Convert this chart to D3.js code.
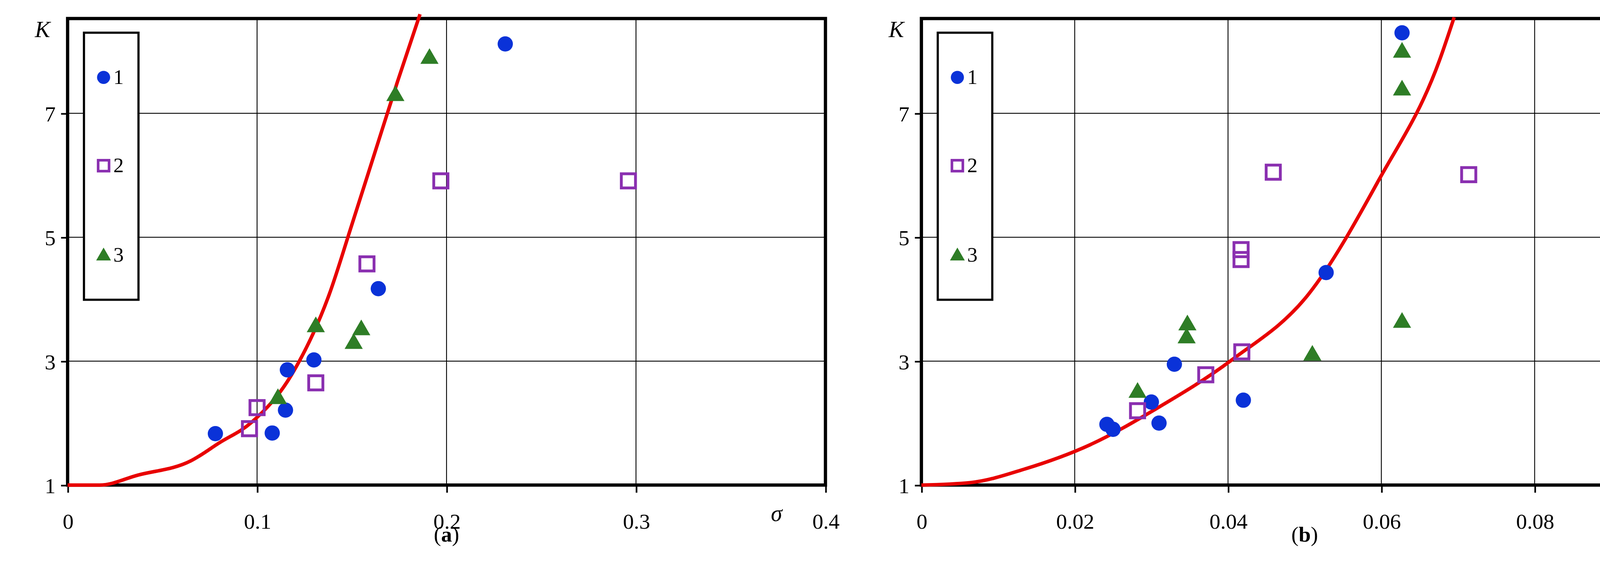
<!DOCTYPE html>
<html><head><meta charset="utf-8">
<script src="https://cdn.jsdelivr.net/npm/d3@7"></script>
<style>html,body{margin:0;padding:0;background:#fff;overflow:hidden}svg{display:block}</style>
</head><body>
<div id="main-frame"></div>
<script>
// panel (a): K vs sigma
var sigma1 = [0.078, 0.108, 0.115, 0.116, 0.130, 0.164, 0.231];
var kA1 = [1.83, 1.84, 2.21, 2.86, 3.02, 4.17, 8.12];
var sigma2 = [0.096, 0.100, 0.131, 0.158, 0.197, 0.296];
var kA2 = [1.91, 2.25, 2.65, 4.57, 5.91, 5.91];
var sigma3 = [0.111, 0.131, 0.151, 0.155, 0.173, 0.191];
var kA3 = [2.41, 3.57, 3.30, 3.52, 7.30, 7.90];
var curveSigma = [0, 0.017, 0.037, 0.065, 0.080, 0.097, 0.118, 0.138, 0.150, 0.162, 0.174, 0.186];
var curveKA = [1.0, 1.0, 1.16, 1.39, 1.68, 2.01, 2.77, 4.07, 5.2, 6.35, 7.5, 8.6];
// panel (b): K vs V
var v1 = [0.0242, 0.0250, 0.0300, 0.0310, 0.0330, 0.0420, 0.0528, 0.0627];
var kB1 = [1.98, 1.90, 2.34, 2.00, 2.95, 2.37, 4.43, 8.30];
var v2 = [0.0282, 0.0371, 0.0418, 0.0417, 0.0417, 0.0459, 0.0714];
var kB2 = [2.20, 2.78, 3.15, 4.64, 4.80, 6.05, 6.01];
var v3 = [0.0282, 0.0346, 0.0347, 0.0510, 0.0627, 0.0627, 0.0627];
var kB3 = [2.51, 3.39, 3.60, 3.11, 3.64, 7.39, 8.00];
var curveV = [0, 0.0064, 0.0135, 0.022, 0.0306, 0.0405, 0.0505, 0.0597, 0.0676, 0.0695];
var curveKB = [1.0, 1.04, 1.26, 1.65, 2.23, 3.02, 4.08, 5.93, 7.86, 8.55];

var yTicks = [1, 3, 5, 7];
var xTicksA = [0, 0.1, 0.2, 0.3, 0.4];
var xTicksB = [0, 0.02, 0.04, 0.06, 0.08, 0.1];
var legendLabels = ["1", "2", "3"];

var FONT = "'Liberation Serif', 'DejaVu Serif', serif";
var S = 4377 / 1568;
var mainSVG = d3.select("#main-frame").append("svg")
  .attr("width", 4377).attr("height", 1493)
  .append("g").attr("transform", "scale(" + S + ")");

function panel(x0, x1, xMax, xTicks, xName, cap, s1, s2, s3, cx, cy) {
  var top = 17, bottom = 445;
  var x = d3.scaleLinear().domain([0, xMax]).range([x0, x1]);
  var y = d3.scaleLinear().domain([1, 8.53]).range([bottom, top]);
  var g = mainSVG.append("g");

  // grid
  xTicks.slice(1, -1).forEach(function(t) {
    g.append("line").attr("x1", x(t)).attr("x2", x(t)).attr("y1", top).attr("y2", bottom)
      .style("stroke", "#000").style("stroke-width", 0.8);
  });
  yTicks.slice(1).forEach(function(t) {
    g.append("line").attr("x1", x0).attr("x2", x1).attr("y1", y(t)).attr("y2", y(t))
      .style("stroke", "#000").style("stroke-width", 0.8);
  });

  // axes
  var ax = g.append("g").attr("transform", "translate(0," + bottom + ")")
    .call(d3.axisBottom(x).tickValues(xTicks).tickSize(7).tickFormat(function(d) { return d === 0 ? "0" : String(+d.toFixed(2)); }));
  var ay = g.append("g").attr("transform", "translate(" + x0 + ",0)")
    .call(d3.axisLeft(y).tickValues(yTicks).tickSize(6).tickFormat(d3.format("d")));
  [ax, ay].forEach(function(a) {
    a.select(".domain").remove();
    a.selectAll("line").style("stroke", "#000").style("stroke-width", 1.5);
    a.selectAll("text").style("font-family", FONT).style("font-size", "20px").attr("fill", "#000");
  });
  ax.selectAll("text").attr("dy", "1.5em");
  ay.selectAll("text").attr("dx", "-0.1em").attr("dy", "0.35em");

  // frame
  g.append("rect").attr("x", x0).attr("y", top).attr("width", x1 - x0).attr("height", bottom - top)
    .style("fill", "none").style("stroke", "#000").style("stroke-width", 3);

  // curve
  g.append("path").datum(d3.zip(cx, cy))
    .attr("d", d3.line().curve(d3.curveMonotoneX).x(function(d) { return x(d[0]); }).y(function(d) { return y(d[1]); }))
    .style("fill", "none").style("stroke", "#e80000").style("stroke-width", 3.2);

  var tri = d3.symbol().type(d3.symbolTriangle).size(120);
  function circles(xs, ys) {
    g.selectAll(null).data(d3.zip(xs, ys)).enter().append("circle")
      .attr("cx", function(d) { return x(d[0]); }).attr("cy", function(d) { return y(d[1]); })
      .attr("r", 7).style("fill", "#0a32d8");
  }
  function squares(xs, ys) {
    g.selectAll(null).data(d3.zip(xs, ys)).enter().append("rect")
      .attr("x", function(d) { return x(d[0]) - 6.5; }).attr("y", function(d) { return y(d[1]) - 6.5; })
      .attr("width", 13).attr("height", 13)
      .style("fill", "none").style("stroke", "#8a2fb0").style("stroke-width", 2.6);
  }
  function triangles(xs, ys) {
    g.selectAll(null).data(d3.zip(xs, ys)).enter().append("path")
      .attr("d", tri).attr("transform", function(d) { return "translate(" + x(d[0]) + "," + (y(d[1]) + 1) + ")"; })
      .style("fill", "#2e7d26");
  }
  circles(s1[0], s1[1]);
  squares(s2[0], s2[1]);
  triangles(s3[0], s3[1]);

  // legend
  var lx = x0 + 15;
  g.append("rect").attr("x", lx).attr("y", 30).attr("width", 50).attr("height", 245)
    .style("fill", "#fff").style("stroke", "#000").style("stroke-width", 2);
  var ly = [71, 152, 234];
  g.append("circle").attr("cx", lx + 18).attr("cy", ly[0]).attr("r", 6).style("fill", "#0a32d8");
  g.append("rect").attr("x", lx + 13).attr("y", ly[1] - 5).attr("width", 10).attr("height", 10)
    .style("fill", "none").style("stroke", "#8a2fb0").style("stroke-width", 2.4);
  g.append("path").attr("d", d3.symbol().type(d3.symbolTriangle).size(80))
    .attr("transform", "translate(" + (lx + 18) + "," + (ly[2] + 1) + ")").style("fill", "#2e7d26");
  legendLabels.forEach(function(l, i) {
    g.append("text").attr("x", lx + 27).attr("y", ly[i] + 6).text(l)
      .style("font-family", FONT).style("font-size", "19px");
  });

  // labels
  g.append("text").attr("x", x0 - 30).attr("y", 34).text("K")
    .style("font-family", FONT).style("font-size", "21px").style("font-style", "italic");
  g.append("text").attr("x", x(xTicks[xTicks.length - 1]) - 50).attr("y", bottom + 33).text(xName)
    .style("font-family", FONT).style("font-size", "21px").style("font-style", "italic");
  g.append("text").attr("x", (x0 + x1) / 2).attr("y", 497).attr("text-anchor", "middle")
    .style("font-family", FONT).style("font-size", "20px")
    .html("(<tspan font-weight='bold'>" + cap + "</tspan>)");
}

panel(62, 757, 0.4, xTicksA, "σ", "a", [sigma1, kA1], [sigma2, kA2], [sigma3, kA3], curveSigma, curveKA);
panel(845, 1548, 0.1, xTicksB, "V", "b", [v1, kB1], [v2, kB2], [v3, kB3], curveV, curveKB);
</script>
</body></html>
